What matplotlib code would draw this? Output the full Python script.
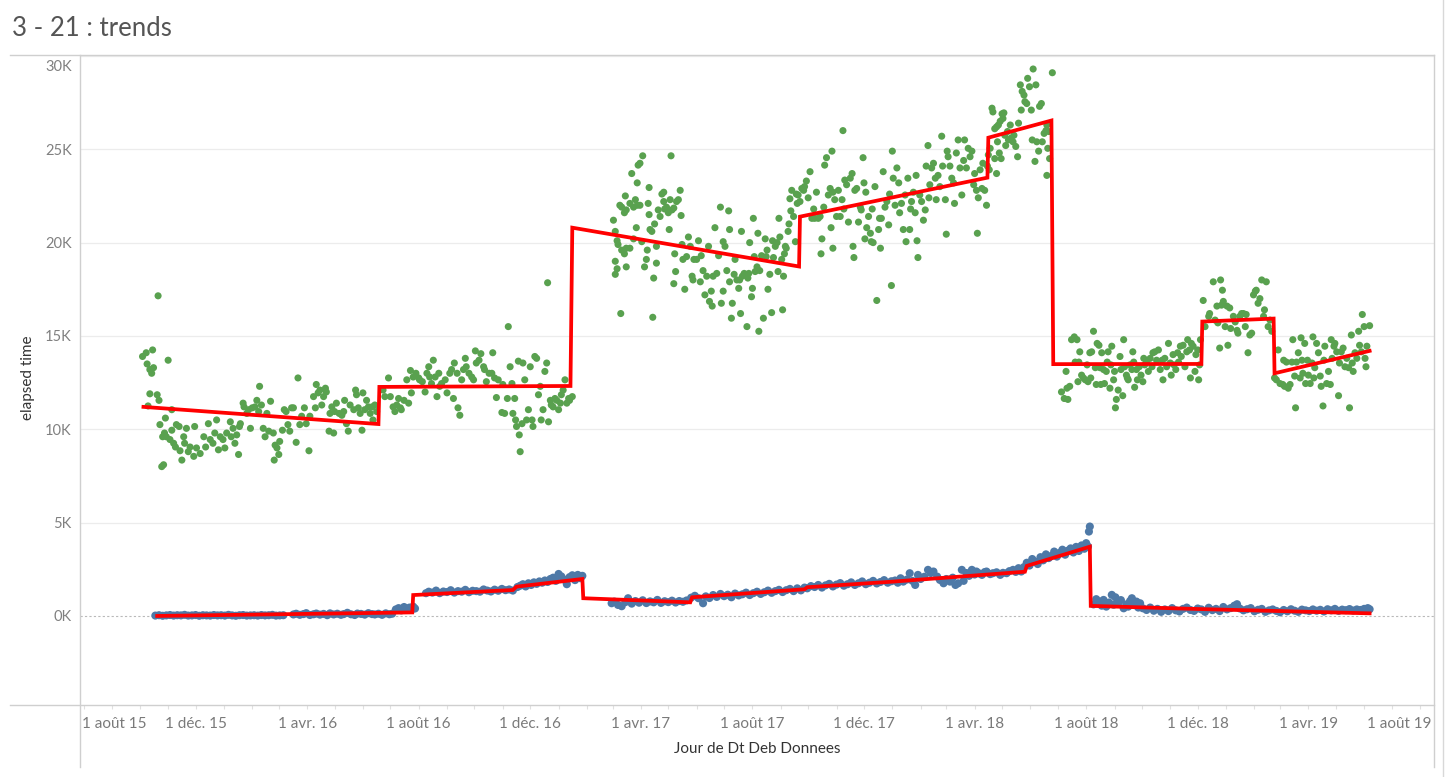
import matplotlib
matplotlib.use("Agg")
import matplotlib.pyplot as plt
import matplotlib.dates as mdates
from matplotlib.lines import Line2D
from matplotlib.transforms import ScaledTranslation
import numpy as np
import pandas as pd

plt.rcParams['font.family'] = ['Lato', 'DejaVu Sans']

START = pd.Timestamp("2015-08-01")   # all day offsets below count from this date

# green series: (day offset, elapsed time in K)
green_2015_16 = [
    (64, 13.9), (68, 14.1), (75, 14.25), (69, 13.5), (72, 13.2), (76, 13.3), (74, 13.0), (81, 17.15),
    (92, 13.7), (72, 11.9), (80, 11.85), (82, 11.55), (70, 11.25), (96, 11.05), (83, 10.25), (89, 10.6),
    (85, 8.0), (87, 8.1),
    (86, 9.6), (88, 9.8), (90, 9.6), (94, 9.45), (96, 9.95), (98, 9.25), (100, 9.05), (101, 10.25),
    (104, 10.15), (105, 8.85), (107, 8.35), (109, 9.6), (110, 9.25), (112, 10.05), (114, 8.8), (116, 9.05),
    (120, 8.55), (121, 10.15), (123, 9.0), (127, 8.7), (131, 9.6), (133, 9.05), (136, 10.3), (138, 9.45),
    (141, 9.25), (143, 9.8), (145, 10.5), (147, 8.9), (149, 9.6), (152, 9.45), (154, 9.0), (156, 9.8),
    (160, 10.4), (161, 9.6), (163, 10.05), (165, 9.25), (167, 9.7), (169, 8.65), (170, 10.15), (171, 10.3),
    (174, 11.4), (175, 11.2), (178, 10.85), (180, 11.05), (182, 10.05), (184, 11.15), (187, 11.2), (189, 11.55),
    (191, 10.95), (192, 12.3), (194, 11.3), (196, 10.05), (198, 9.6), (200, 10.85), (202, 9.9), (204, 11.5),
    (207, 9.8), (209, 9.15), (208, 8.35), (211, 9.0), (213, 8.65), (214, 9.35), (217, 9.95), (219, 11.05),
    (221, 10.95), (223, 10.25), (225, 9.9), (227, 11.15), (229, 11.15), (232, 9.3), (234, 12.75), (236, 10.25),
    (238, 10.7), (241, 11.15), (243, 10.3), (246, 8.85), (247, 10.7), (251, 11.75), (253, 11.15), (254, 12.4),
    (256, 11.95), (258, 12.1), (260, 11.3), (262, 11.75), (264, 12.2), (265, 12.0), (268, 9.9), (269, 10.85),
    (271, 11.2), (273, 9.8), (274, 10.95), (276, 11.4), (279, 10.85), (282, 10.75), (284, 10.95), (285, 11.55),
    (287, 10.3), (289, 9.9), (291, 11.3), (295, 11.05), (297, 12.1), (298, 11.85), (300, 11.15), (302, 10.85),
    (304, 9.95), (305, 11.95), (307, 11.05), (309, 11.55), (311, 11.2), (313, 10.85), (315, 11.2), (316, 10.5),
    (318, 11.3), (320, 10.95),
    (327, 12.1), (329, 11.75), (333, 12.75), (335, 11.75), (338, 11.2), (340, 10.95), (342, 11.3), (344, 11.65),
    (346, 11.15), (347, 11.05), (350, 11.55), (353, 12.65), (355, 11.4), (357, 13.15), (358, 11.95), (360, 12.8),
    (363, 13.0), (366, 12.75), (367, 12.65), (370, 12.55), (373, 12.0), (375, 13.0), (377, 13.35), (378, 12.8),
    (380, 12.45), (382, 13.7), (384, 12.8), (386, 11.75), (388, 13.0), (389, 12.3), (391, 12.45), (395, 12.65),
    (397, 11.95), (400, 13.0), (402, 13.2), (404, 11.65), (405, 13.55), (408, 13.0), (409, 11.15), (411, 10.75),
    (413, 12.65), (415, 13.2), (417, 13.8), (418, 13.35), (421, 13.0), (424, 12.8), (426, 12.65), (428, 14.2),
    (429, 13.55), (432, 13.7), (434, 14.05), (437, 13.35), (438, 13.2), (440, 12.55), (443, 13.0), (446, 13.0),
    (447, 14.1), (449, 12.75), (451, 11.7), (453, 12.65), (457, 10.9), (458, 12.4), (460, 10.85), (463, 11.65),
    (464, 15.5), (466, 13.35), (468, 12.45), (469, 10.85), (471, 11.65), (472, 10.5), (473, 10.15), (475, 13.65),
    (476, 9.7), (477, 8.8), (479, 10.3), (480, 13.55), (482, 12.65), (484, 10.5), (486, 11.05), (488, 13.35),
    (490, 10.5), (491, 10.15), (493, 13.9), (495, 13.8), (497, 11.85), (499, 12.3), (500, 10.5), (502, 11.05),
    (504, 13.1), (506, 13.55), (508, 10.4), (507, 17.85), (510, 11.55), (511, 11.3), (513, 11.2), (515, 11.65),
    (517, 11.55), (519, 11.05), (521, 11.4), (522, 11.85), (524, 12.1), (526, 12.65), (528, 11.4), (530, 11.65),
    (531, 11.55), (534, 11.75),
]

green_2017_18 = [
    (579, 21.2), (581, 20.6), (583, 20.1), (584, 19.9), (581, 19.0), (583, 18.6), (581, 18.3), (587, 16.2),
    (586, 22.0), (588, 21.9), (592, 22.5), (591, 21.6), (593, 21.75), (597, 22.1), (599, 23.7), (601, 21.9),
    (603, 22.3), (605, 23.2), (606, 24.15), (608, 24.25), (611, 24.65), (604, 20.8), (605, 22.0), (608, 22.0),
    (588, 19.6), (591, 19.4), (593, 19.7), (597, 19.7), (593, 18.7), (601, 20.2), (610, 20.05), (613, 18.7),
    (615, 19.1), (616, 19.6), (618, 22.95), (617, 22.1), (618, 21.5), (619, 20.7), (621, 20.6), (622, 16.0),
    (623, 18.1), (624, 21.0), (626, 19.8), (626, 18.9), (628, 21.75), (630, 21.4), (632, 22.6), (634, 22.7),
    (634, 22.2), (635, 21.8), (637, 21.9), (639, 21.6), (640, 20.7), (642, 24.65), (641, 22.3), (643, 21.75),
    (645, 21.85), (646, 19.4), (645, 17.8), (647, 18.45), (648, 22.2), (650, 22.3), (652, 22.8), (653, 21.45),
    (654, 19.9), (655, 19.1), (657, 17.5), (659, 19.25), (661, 20.3), (663, 19.8), (665, 18.2), (666, 18.0),
    (667, 19.1), (670, 19.1), (672, 20.1), (674, 17.9), (675, 19.3), (677, 18.5), (679, 17.2), (681, 18.2),
    (683, 19.8), (684, 16.85), (686, 17.4), (687, 16.6), (688, 18.2), (690, 20.8), (692, 18.35), (694, 19.3),
    (696, 21.9), (697, 16.75), (699, 20.05), (699, 17.4), (701, 19.8), (703, 18.5), (705, 21.7), (706, 20.7),
    (706, 17.9), (708, 15.95), (709, 16.75), (711, 18.3), (712, 19.1), (714, 18.0), (716, 17.55), (717, 18.0),
    (718, 16.2), (719, 20.6), (720, 18.2), (722, 18.35), (725, 15.5), (726, 18.1), (727, 18.35), (728, 20.0),
    (730, 17.1), (732, 21.3), (731, 17.55), (733, 19.25), (734, 18.45), (736, 18.7), (737, 20.5), (738, 15.25),
    (739, 18.5), (741, 19.3), (743, 15.95), (745, 20.2), (746, 19.25), (747, 19.6), (748, 17.5), (750, 18.3),
    (752, 16.25), (753, 20.1), (754, 19.2), (756, 19.8), (758, 20.0), (759, 18.45), (760, 21.3), (761, 20.3),
    (763, 19.1), (764, 16.4), (765, 18.2), (766, 19.4), (767, 19.8), (768, 19.7), (770, 20.6), (771, 21.0),
    (772, 22.35), (773, 21.7), (774, 22.8), (776, 21.4), (778, 20.05), (779, 22.6), (780, 22.1), (781, 22.55),
    (783, 22.2), (785, 22.9), (787, 22.8), (788, 23.0), (790, 23.3), (792, 22.4), (794, 23.8), (796, 21.3),
    (798, 21.8), (799, 21.3), (801, 22.7), (803, 21.3), (805, 21.4), (806, 19.4), (807, 20.2), (809, 21.9),
    (810, 24.15), (812, 24.55), (814, 22.55), (816, 22.9), (818, 24.9), (817, 20.8), (819, 19.7), (819, 22.7),
    (821, 22.3), (823, 21.4), (825, 22.8), (827, 21.4), (829, 22.3), (830, 26.0), (831, 21.8), (832, 23.35),
    (834, 23.1), (836, 21.1), (838, 23.45), (840, 23.7), (841, 19.8), (842, 19.2), (843, 22.8), (845, 22.9),
    (847, 21.1), (849, 21.9), (850, 21.75), (852, 24.55), (853, 23.2), (854, 20.2), (855, 22.7), (856, 20.8),
    (858, 21.4), (860, 20.5), (861, 20.05), (862, 21.8), (863, 20.0), (865, 23.0), (867, 16.9), (869, 20.7),
    (870, 21.3), (871, 19.7), (872, 21.3), (874, 23.8), (876, 21.9), (878, 22.2), (880, 20.95), (881, 22.6),
    (883, 17.7), (884, 24.9), (885, 23.45), (887, 22.0), (889, 24.0), (891, 23.2), (892, 21.6), (894, 22.1),
    (896, 20.7), (898, 22.55), (899, 20.05), (901, 23.45), (903, 20.7), (904, 21.8), (905, 22.2), (907, 22.7),
    (909, 21.6), (911, 20.1), (910, 23.6), (912, 19.2), (914, 22.55), (916, 22.2), (918, 21.2), (920, 21.75),
    (921, 24.1), (923, 25.2), (924, 22.4), (925, 23.1), (927, 24.0), (929, 24.25), (931, 23.45), (932, 22.3),
    (934, 23.6), (936, 23.0), (938, 25.7), (939, 24.1), (942, 22.3), (943, 20.45), (944, 24.9), (945, 24.6),
    (947, 24.1), (949, 23.45), (951, 23.2), (952, 22.1), (954, 24.8), (956, 25.5), (958, 24.0), (960, 22.55),
    (962, 24.4), (963, 25.5), (965, 24.0), (967, 25.05), (969, 24.6), (971, 24.9), (973, 23.1), (974, 23.7),
    (976, 22.8), (977, 20.5), (978, 22.4), (980, 23.9), (982, 22.9), (983, 24.25), (985, 22.8), (987, 22.0),
    (988, 24.1), (989, 24.7), (990, 23.9), (991, 25.05),
]

green_peak_18 = [
    (993, 27.2), (994, 27.0), (996, 26.1), (998, 26.2), (1000, 26.3), (1002, 26.5), (1004, 26.9), (1005, 26.65),
    (1006, 26.95), (1007, 25.75), (1008, 25.2), (1010, 25.95), (1011, 25.5), (1013, 26.3), (1014, 25.6),
    (1016, 25.4), (1017, 25.75), (1019, 25.15), (1021, 24.6), (1022, 26.4), (1024, 28.45), (1025, 27.1),
    (1026, 28.1), (1028, 27.9), (1029, 27.55), (1031, 27.45), (1032, 28.8), (1034, 28.35), (1036, 27.1),
    (1037, 25.5), (1038, 29.3), (1040, 24.35), (1041, 28.45), (1042, 25.4), (1044, 24.9), (1045, 27.3),
    (1047, 27.45), (1048, 25.4), (1050, 25.85), (1052, 26.0), (1053, 26.3), (1054, 25.05), (1055, 25.95),
    (1056, 24.5), (1053, 23.6), (1059, 29.1), (998, 23.7), (1003, 24.5), (996, 24.5), (1001, 24.8), (999, 25.4),
]

green_2018_19 = [
    (1069, 12.0), (1072, 11.65), (1075, 12.2), (1076, 11.6), (1078, 12.3), (1074, 13.1), (1080, 14.8),
    (1083, 14.95), (1086, 14.8), (1084, 13.6), (1088, 13.6), (1089, 14.15), (1091, 12.9), (1093, 12.75),
    (1087, 12.55), (1095, 12.65), (1097, 13.45), (1098, 12.55), (1100, 14.1), (1101, 12.75), (1102, 14.15),
    (1104, 15.25), (1106, 13.3), (1107, 12.4), (1108, 14.6), (1110, 14.5), (1111, 13.3), (1113, 14.1),
    (1112, 12.4), (1115, 13.2), (1116, 12.45), (1118, 13.1), (1119, 13.6), (1120, 14.15), (1122, 12.2),
    (1123, 13.45), (1124, 14.45), (1126, 12.65), (1127, 13.1), (1128, 11.15), (1129, 11.6), (1131, 12.1),
    (1133, 13.9), (1134, 13.2), (1136, 11.8), (1137, 14.8), (1138, 13.35), (1140, 12.9), (1141, 12.75),
    (1142, 12.65), (1144, 13.45), (1146, 13.2), (1147, 14.15), (1148, 13.6), (1149, 12.25), (1151, 13.2),
    (1152, 12.65), (1154, 13.35), (1156, 12.9), (1158, 12.55), (1159, 13.8), (1160, 13.45), (1162, 13.6),
    (1164, 13.1), (1166, 13.8), (1168, 13.35), (1169, 14.1), (1171, 14.15), (1173, 13.7), (1175, 14.25),
    (1177, 13.2), (1179, 13.7), (1180, 12.65), (1182, 13.8), (1184, 13.35), (1186, 14.6), (1188, 13.55),
    (1189, 12.9), (1191, 14.0), (1192, 13.45), (1194, 13.2), (1196, 14.1), (1197, 13.6), (1199, 14.45),
    (1200, 13.9), (1202, 14.5), (1204, 13.35), (1206, 14.15), (1207, 14.8), (1209, 14.25), (1210, 12.75),
    (1211, 14.6), (1213, 14.45), (1215, 13.1), (1216, 14.0), (1218, 14.25), (1219, 12.65), (1220, 13.45),
    (1221, 14.8),
    (1224, 16.9), (1226, 15.5), (1230, 16.05), (1231, 16.2), (1235, 17.9), (1237, 15.85), (1239, 16.6),
    (1240, 15.7), (1242, 14.35), (1243, 18.0), (1244, 16.65), (1245, 17.45), (1246, 16.85), (1248, 15.5),
    (1250, 16.6), (1251, 14.5), (1253, 16.5), (1254, 15.4), (1257, 16.05), (1259, 15.75), (1261, 15.3),
    (1262, 15.15), (1264, 16.05), (1266, 16.2), (1268, 16.2), (1270, 15.5), (1271, 16.15), (1273, 14.1),
    (1275, 15.05), (1277, 15.15), (1279, 17.2), (1281, 17.4), (1282, 17.45), (1284, 16.75), (1286, 17.0),
    (1288, 18.0), (1290, 16.05), (1291, 16.4), (1293, 17.9), (1295, 15.5), (1297, 15.85), (1299, 15.25),
    (1302, 12.75), (1304, 12.65), (1306, 14.25), (1308, 12.45), (1311, 12.4), (1312, 13.7), (1313, 12.3),
    (1315, 13.6), (1317, 12.2), (1319, 12.4), (1321, 13.6), (1322, 14.8), (1324, 12.85), (1325, 11.15),
    (1326, 13.6), (1328, 14.1), (1330, 12.75), (1331, 14.9), (1332, 13.7), (1333, 13.0), (1335, 14.6),
    (1336, 12.45), (1338, 13.7), (1339, 12.9), (1341, 12.45), (1343, 13.55), (1344, 14.95), (1345, 12.75),
    (1346, 13.3), (1348, 14.6), (1350, 14.1), (1352, 12.85), (1353, 12.3), (1355, 11.25), (1356, 13.7),
    (1357, 14.45), (1359, 12.45), (1361, 13.1), (1363, 12.4), (1364, 14.8), (1365, 13.8), (1367, 14.45),
    (1368, 14.6), (1370, 14.15), (1372, 11.8), (1373, 13.55), (1375, 14.15), (1377, 14.35), (1379, 13.35),
    (1381, 13.8), (1383, 13.3), (1384, 11.15), (1386, 15.05), (1387, 13.55), (1388, 13.1), (1390, 14.1),
    (1392, 13.8), (1394, 15.25), (1395, 14.5), (1397, 14.15), (1398, 16.15), (1400, 15.5), (1401, 13.8),
    (1402, 13.35), (1403, 14.45), (1406, 15.55),
]

# blue series: (day offset, elapsed time in K)
blue_2015_16 = [
    (78, 0.02), (82, 0.04), (86, 0.01), (90, 0.03), (94, 0.05), (98, 0.02), (102, 0.04), (106, 0.03),
    (110, 0.06), (114, 0.02), (118, 0.03), (122, 0.05), (126, 0.01), (130, 0.04), (134, 0.03), (138, 0.02),
    (142, 0.05), (146, 0.03), (150, 0.04), (154, 0.02), (158, 0.06), (162, 0.03), (166, 0.01), (170, 0.04),
    (174, 0.05), (178, 0.02), (182, 0.03), (186, 0.04), (190, 0.02), (194, 0.05), (198, 0.03), (202, 0.04),
    (206, 0.06), (210, 0.02), (214, 0.03), (218, 0.04),
    (229, 0.08), (232, 0.12), (236, 0.06), (240, 0.10), (243, 0.15), (247, 0.05), (251, 0.09), (254, 0.13),
    (258, 0.07), (262, 0.11), (266, 0.04), (269, 0.14), (273, 0.08), (277, 0.12), (281, 0.06), (284, 0.10),
    (288, 0.17), (292, 0.09), (296, 0.05), (299, 0.13), (303, 0.11), (307, 0.07), (311, 0.15), (315, 0.10),
    (318, 0.08), (322, 0.12), (326, 0.06), (330, 0.14), (334, 0.09), (337, 0.12),
    (341, 0.35), (344, 0.42), (347, 0.30), (350, 0.48), (353, 0.38), (356, 0.45), (358, 0.33), (360, 0.50),
    (362, 0.40),
]

blue_2016_17 = [
    (374, 1.22), (377, 1.30), (381, 1.25), (385, 1.36), (389, 1.22), (393, 1.31), (397, 1.28), (401, 1.38),
    (405, 1.25), (409, 1.33), (413, 1.30), (417, 1.40), (421, 1.27), (425, 1.35), (429, 1.33), (433, 1.30),
    (437, 1.42), (441, 1.36), (445, 1.31), (449, 1.41), (453, 1.35), (457, 1.45), (461, 1.38), (465, 1.42),
    (469, 1.36),
    (474, 1.55), (477, 1.62), (480, 1.70), (483, 1.58), (486, 1.75), (489, 1.66), (492, 1.80), (495, 1.72),
    (498, 1.85), (501, 1.78), (504, 1.90), (507, 1.82), (510, 1.98), (513, 2.05), (516, 1.88), (519, 2.25),
    (522, 2.12), (525, 1.95), (528, 1.70), (531, 2.08), (534, 2.18), (537, 1.92), (540, 2.20), (543, 2.02),
    (545, 2.15),
    (577, 0.68), (580, 0.77), (584, 0.59), (588, 0.52), (592, 0.74), (595, 0.95), (599, 0.66), (603, 0.80),
    (607, 0.71), (611, 0.84), (615, 0.69), (619, 0.78), (623, 0.73), (627, 0.86), (631, 0.70), (635, 0.79),
    (639, 0.74), (643, 0.82), (647, 0.72), (651, 0.80), (655, 0.76), (659, 0.83),
]

blue_2017_18 = [
    (664, 0.98), (668, 1.08), (672, 0.95), (677, 0.68), (680, 1.05), (684, 0.96), (688, 1.12), (692, 1.02),
    (696, 1.18), (700, 1.06), (704, 1.14), (708, 1.00), (712, 1.20), (716, 1.10), (720, 1.16), (724, 1.25),
    (728, 1.12), (732, 1.22), (736, 1.30), (740, 1.18), (744, 1.27), (748, 1.36), (752, 1.24), (756, 1.33),
    (760, 1.40), (764, 1.28), (768, 1.38), (772, 1.45), (776, 1.33), (780, 1.48), (784, 1.37), (788, 1.52),
    (791, 1.48), (795, 1.60), (799, 1.55), (803, 1.66), (807, 1.52), (811, 1.64), (815, 1.72), (819, 1.58),
    (823, 1.68), (827, 1.76), (831, 1.62), (835, 1.70), (839, 1.80), (843, 1.66), (847, 1.75), (851, 1.85),
    (855, 1.70), (859, 1.78), (863, 1.88), (867, 1.74), (871, 1.82), (875, 1.92), (879, 1.78), (883, 1.86),
    (887, 1.90), (890, 1.78), (893, 2.02), (896, 1.84), (900, 1.95), (903, 2.29), (906, 1.88), (909, 1.66),
    (912, 2.20), (915, 1.98), (919, 2.10), (923, 2.47), (926, 2.30), (929, 2.38), (933, 2.11), (936, 1.93),
    (940, 1.75), (943, 1.98), (947, 1.84), (950, 2.05), (953, 1.66), (956, 1.75), (960, 2.47), (962, 1.88),
    (965, 2.30), (968, 2.15), (971, 2.47), (974, 2.22), (976, 2.38), (979, 2.28), (982, 2.20), (985, 2.35),
    (987, 2.38), (991, 2.24), (994, 2.29), (998, 2.34), (1002, 2.20), (1005, 2.31), (1009, 2.29), (1012, 2.40),
    (1016, 2.47), (1019, 2.36), (1022, 2.56), (1025, 2.38),
    (1028, 2.62), (1031, 2.85), (1034, 2.70), (1037, 3.05), (1040, 2.92), (1043, 2.78), (1046, 3.15),
    (1049, 2.98), (1052, 3.30), (1055, 3.10), (1058, 3.22), (1061, 3.45), (1064, 3.18), (1067, 3.38),
    (1070, 3.55), (1073, 3.28), (1076, 3.50), (1079, 3.62), (1082, 3.40), (1085, 3.70), (1088, 3.48),
    (1091, 3.78), (1094, 3.60), (1096, 3.90), (1098, 3.72), (1099, 4.52), (1100, 4.79),
]

blue_2018_19 = [
    (1104, 0.62), (1107, 0.90), (1111, 0.77), (1113, 0.55), (1115, 0.86), (1118, 0.50), (1121, 0.72),
    (1124, 1.13), (1126, 0.60), (1128, 1.00), (1131, 0.68), (1134, 0.85), (1137, 0.41), (1140, 0.62),
    (1142, 0.50), (1144, 0.80), (1146, 0.95), (1149, 0.58), (1151, 0.77), (1153, 0.45), (1155, 0.68),
    (1158, 0.41), (1162, 0.32), (1166, 0.45), (1170, 0.28), (1174, 0.38), (1178, 0.22), (1182, 0.35),
    (1186, 0.26), (1190, 0.42), (1194, 0.30), (1198, 0.24), (1202, 0.38), (1206, 0.45), (1210, 0.32),
    (1214, 0.27), (1218, 0.40), (1222, 0.35), (1226, 0.22), (1230, 0.44), (1234, 0.31), (1238, 0.38),
    (1242, 0.26), (1246, 0.48), (1250, 0.35), (1254, 0.42), (1258, 0.55), (1261, 0.63), (1264, 0.40),
    (1268, 0.30), (1272, 0.36), (1276, 0.42), (1280, 0.25), (1284, 0.33), (1288, 0.38), (1292, 0.22),
    (1296, 0.30), (1300, 0.35), (1304, 0.27), (1308, 0.20), (1312, 0.32), (1316, 0.25), (1320, 0.36),
    (1324, 0.28), (1328, 0.22), (1332, 0.34), (1336, 0.30), (1340, 0.26), (1344, 0.35), (1348, 0.28),
    (1352, 0.33), (1356, 0.24), (1360, 0.36), (1364, 0.30), (1368, 0.38), (1372, 0.27), (1376, 0.34),
    (1380, 0.31), (1384, 0.37), (1388, 0.29), (1392, 0.35), (1396, 0.32), (1400, 0.38), (1404, 0.42),
    (1406, 0.36),
]

# red trend lines, vertices (day offset, K)
green_trend = [(65, 11.2), (322, 10.28), (323, 12.27), (532, 12.32), (534, 20.8), (782, 18.72),
               (783, 21.39), (988, 23.48), (989, 25.62), (1058, 26.54), (1060, 13.49), (1222, 13.5),
               (1223, 15.77), (1301, 15.93), (1302, 13.0), (1406, 14.2)]
blue_trend = [(80, 0.0), (359, 0.19), (360, 1.12), (469, 1.39), (473, 1.57), (545, 1.98), (546, 0.95),
              (663, 0.73), (665, 1.0), (788, 1.43), (791, 1.54), (885, 1.84), (1029, 2.37), (1031, 2.68),
              (1100, 3.71), (1101, 0.54), (1220, 0.37), (1406, 0.14)]

y_ticks = [0, 5, 10, 15, 20, 25, 30]
x_tick_dates = ["2015-08-01", "2015-12-01", "2016-04-01", "2016-08-01", "2016-12-01", "2017-04-01",
                "2017-08-01", "2017-12-01", "2018-04-01", "2018-08-01", "2018-12-01", "2019-04-01",
                "2019-08-01"]
x_tick_labels = ["1 août 15", "1 déc. 15", "1 avr. 16", "1 août 16", "1 déc. 16", "1 avr. 17",
                 "1 août 17", "1 déc. 17", "1 avr. 18", "1 août 18", "1 déc. 18", "1 avr. 19",
                 "1 août 19"]


def split(pairs):
    days, vals = zip(*pairs)
    return START + pd.to_timedelta(np.array(days), unit="D"), np.array(vals)


W, H = 1445, 777
fig = plt.figure(figsize=(W / 100, H / 100), dpi=100)
ax = fig.add_axes([80 / W, 1 - 705 / H, (1434 - 80) / W, (705 - 55) / H])

for pts in (blue_2015_16, blue_2016_17, blue_2017_18, blue_2018_19):
    x, y = split(pts)
    ax.scatter(x, y, s=34, color="#4e79a7", edgecolors="none", zorder=3)
for pts in (green_2015_16, green_2017_18, green_peak_18, green_2018_19):
    x, y = split(pts)
    ax.scatter(x, y, s=26, color="#59a14f", edgecolors="none", zorder=3)
for tr in (green_trend, blue_trend):
    x, y = split(tr)
    ax.plot(x, y, color="#ff0000", lw=2.7, zorder=4, solid_joinstyle="miter")

ax.set_xlim(START - pd.Timedelta(days=4.4), START + pd.Timedelta(days=1476.4))
ax.set_ylim(-4.77, 30.05)

# grid
for t in y_ticks[1:]:
    ax.axhline(t, color="#ececec", lw=0.9, zorder=1)
ax.axhline(0, color="#b9b9b9", lw=0.8, ls=(0, (2, 2)), zorder=1)

for s in ax.spines.values():
    s.set_visible(False)

ax.set_yticks(y_ticks)
ax.set_yticklabels([f"{t}K" for t in y_ticks])
ax.tick_params(axis="y", length=0, pad=6, labelsize=10.5, labelcolor="#808080")
ytl = ax.get_yticklabels()
ytl[-1].set_transform(ytl[-1].get_transform() + ScaledTranslation(0, -0.10, fig.dpi_scale_trans))

ax.set_xticks(pd.to_datetime(x_tick_dates))
ax.set_xticklabels(x_tick_labels)
ax.xaxis.set_minor_locator(mdates.MonthLocator())
ax.tick_params(axis="x", which="major", length=3, width=0.8, color="#e0e0e0", pad=6,
               labelsize=11, labelcolor="#7a7a7a")
ax.tick_params(axis="x", which="minor", length=3, width=0.8, color="#e0e0e0")
xtl = ax.get_xticklabels()
xtl[0].set_ha("left")
xtl[0].set_transform(xtl[0].get_transform() + ScaledTranslation(-0.02, 0, fig.dpi_scale_trans))
xtl[-1].set_transform(xtl[-1].get_transform() + ScaledTranslation(-0.21, 0, fig.dpi_scale_trans))

# frame lines of the view
frame = "#cfcfcf"
fig.add_artist(Line2D([10 / W, 1434 / W], [1 - 55 / H, 1 - 55 / H], color=frame, lw=1))
fig.add_artist(Line2D([10 / W, 1434 / W], [1 - 705 / H, 1 - 705 / H], color=frame, lw=1))
fig.add_artist(Line2D([80 / W, 80 / W], [1 - 55 / H, 1 - 767 / H], color=frame, lw=1))
fig.add_artist(Line2D([1434 / W, 1434 / W], [1 - 55 / H, 1 - 767 / H], color=frame, lw=1))
fig.add_artist(Line2D([1443 / W, 1443 / W], [0, 1], color="#d8d8d8", lw=1))

fig.text(12 / W, 1 - 29 / H, "3 - 21 : trends", fontsize=18.5, color="#555555", va="center", ha="left")
fig.text(757 / W, 1 - 749 / H, "Jour de Dt Deb Donnees", fontsize=11, color="#333333",
         ha="center", va="center")
fig.text(28 / W, 1 - 378 / H, "elapsed time", fontsize=11, color="#333333", rotation=90,
         ha="center", va="center")

fig.savefig("out.png", dpi=100)
